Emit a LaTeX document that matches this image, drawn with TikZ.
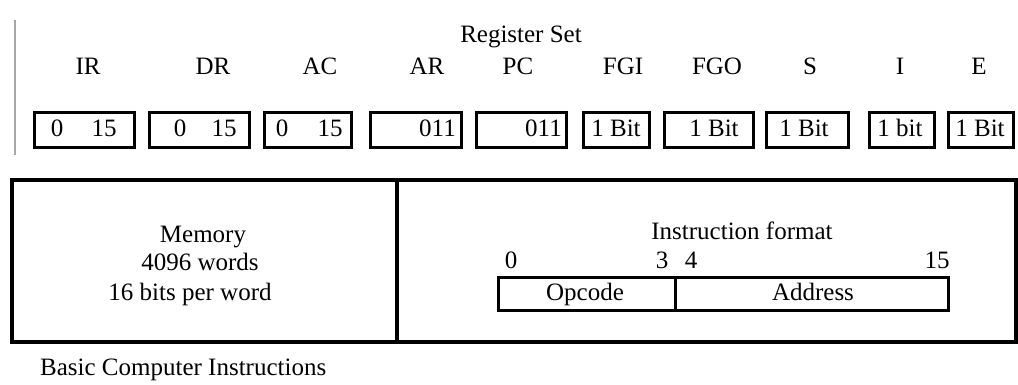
\documentclass[tikz,border=0pt]{standalone}
\usepackage{fontspec}
\setmainfont{Liberation Serif}
\begin{document}
\begin{tikzpicture}[x=1pt,y=-1pt,
  every node/.style={font=\fontsize{25}{30}\selectfont, inner sep=0pt},
  txt/.style={anchor=base},
  reg/.style={draw, line width=2.8pt, minimum height=35pt, anchor=north west},
  frame/.style={line width=3.4pt},
  fmt/.style={draw, line width=2.6pt}]
\useasboundingbox (0,0) rectangle (1018,385);
% left margin mark
\coordinate (m1) at (15,20);
\coordinate (m2) at (15,155);
\draw[gray!70, line width=1.5pt] (m1) -- (m2);
% title
\node[txt] (title) at (521,43) {Register Set};
% register names
\node[txt] (nIR)  at (88,75)  {IR};
\node[txt] (nDR)  at (213,75) {DR};
\node[txt] (nAC)  at (320,75) {AC};
\node[txt] (nAR)  at (427,75) {AR};
\node[txt] (nPC)  at (518,75) {PC};
\node[txt] (nFGI) at (623,75) {FGI};
\node[txt] (nFGO) at (717,75) {FGO};
\node[txt] (nS)   at (810,75) {S};
\node[txt] (nI)   at (900,75) {I};
\node[txt] (nE)   at (979,75) {E};
% register boxes
\node[reg, minimum width=100pt] (bIR)  at (33,111)  {};
\node[reg, minimum width=100pt] (bDR)  at (148,111) {};
\node[reg, minimum width=87pt]  (bAC)  at (263,111) {};
\node[reg, minimum width=91pt]  (bAR)  at (369,111) {};
\node[reg, minimum width=90pt]  (bPC)  at (475,111) {};
\node[reg, minimum width=66pt]  (bFGI) at (582,111) {};
\node[reg, minimum width=89pt]  (bFGO) at (663,111) {};
\node[reg, minimum width=82pt]  (bS)   at (765,111) {};
\node[reg, minimum width=65pt]  (bI)   at (868,111) {};
\node[reg, minimum width=65pt]  (bE)   at (947,111) {};
% register contents
\node[txt] (tIR0)  at (57,137)  {0};
\node[txt] (tIR1)  at (104,137) {15};
\node[txt] (tDR0)  at (180,137) {0};
\node[txt] (tDR1)  at (224,137) {15};
\node[txt] (tAC0)  at (282,137) {0};
\node[txt] (tAC1)  at (330,137) {15};
\node[txt, anchor=base east] (tAR) at (456,137) {011};
\node[txt, anchor=base east] (tPC) at (562,137) {011};
\node[txt] (tFGI) at (616,137) {1 Bit};
\node[txt] (tFGO) at (714,137) {1 Bit};
\node[txt] (tS)   at (804,137) {1 Bit};
\node[txt] (tI)   at (900,137) {1 bit};
\node[txt] (tE)   at (980,137) {1 Bit};
% memory / instruction frame
\draw[frame] (12,180) rectangle (1016,342);
\coordinate (d1) at (397,180);
\coordinate (d2) at (397,342);
\draw[frame] (d1) -- (d2);
\node[txt] (mem1) at (203,242) {Memory};
\node[txt] (mem2) at (200,270) {4096 words};
\node[txt] (mem3) at (190,300) {16 bits per word};
% instruction format
\node[txt] (ifmt) at (742,240) {Instruction format};
\node[txt] (b0)  at (511,268) {0};
\node[txt] (b3)  at (662,268) {3};
\node[txt] (b4)  at (691,268) {4};
\node[txt] (b15) at (937,268) {15};
\node[fmt, minimum width=177pt, minimum height=33pt, anchor=north west] (opc) at (497,276) {};
\node[fmt, minimum width=273pt, minimum height=33pt, anchor=north west] (adr) at (674,276) {};
\node[txt] (topc) at (585,300) {Opcode};
\node[txt] (tadr) at (813,300) {Address};
% caption
\node[txt, anchor=base west] (cap) at (40,375) {Basic Computer Instructions};
\end{tikzpicture}
\end{document}
